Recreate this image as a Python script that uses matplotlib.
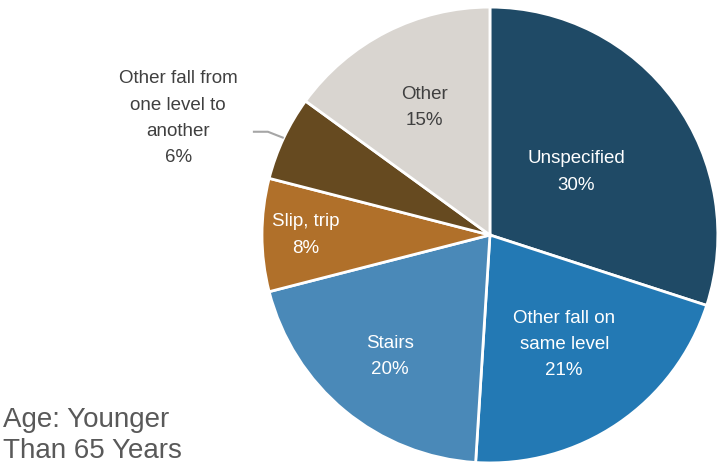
import numpy as np
import matplotlib
matplotlib.use('Agg')
import matplotlib.pyplot as plt

plt.rcParams['font.family'] = ['Liberation Sans', 'DejaVu Sans']

labels = ['Unspecified', 'Other fall on\nsame level', 'Stairs', 'Slip, trip',
          'Other fall from\none level to\nanother', 'Other']
shares = [30, 21, 20, 8, 6, 15]
colors = ['#1f4a66', '#2379b4', '#4a89b8', '#b0702a', '#664a20', '#d9d5d0']
text_colors = ['white', 'white', 'white', 'white', '#404040', '#404040']
label_dist = [0.47, 0.58, 0.69, 0.81, None, 0.63]

fig = plt.figure(figsize=(7.19, 4.65), dpi=100)
ax = fig.add_axes([0.3644, 0.0043, 0.634, 0.9806])

wedges, _ = ax.pie(shares, colors=colors, startangle=90, counterclock=False,
                   wedgeprops=dict(edgecolor='white', linewidth=2))
ax.set_aspect('equal')
ax.set_xlim(-1, 1)
ax.set_ylim(-1, 1)

for w, lab, val, tc, d in zip(wedges, labels, shares, text_colors, label_dist):
    ang = np.deg2rad((w.theta1 + w.theta2) / 2)
    txt = f'{lab}\n{val}%'
    if d is None:
        # outside label with a bent leader line
        x0, y0 = np.cos(ang) * 1.0, np.sin(ang) * 1.0
        xs = [x0, -0.974, -1.04]
        ys = [y0, 0.453, 0.453]
        ax.plot(xs, ys, color='#a6a6a6', lw=1.5, clip_on=False, solid_capstyle='butt')
        ax.text(-1.368, 0.513, txt, ha='center', va='center',
                fontsize=13.5, color=tc, linespacing=1.7)
    else:
        ax.text(np.cos(ang) * d, np.sin(ang) * d, txt, ha='center', va='center',
                fontsize=13.5, color=tc, linespacing=1.7)

fig.text(0.004, 0.002, 'Age: Younger\nThan 65 Years', ha='left', va='bottom',
         fontsize=20, color='#595959', linespacing=1.25)

fig.savefig('out.png', dpi=100)
